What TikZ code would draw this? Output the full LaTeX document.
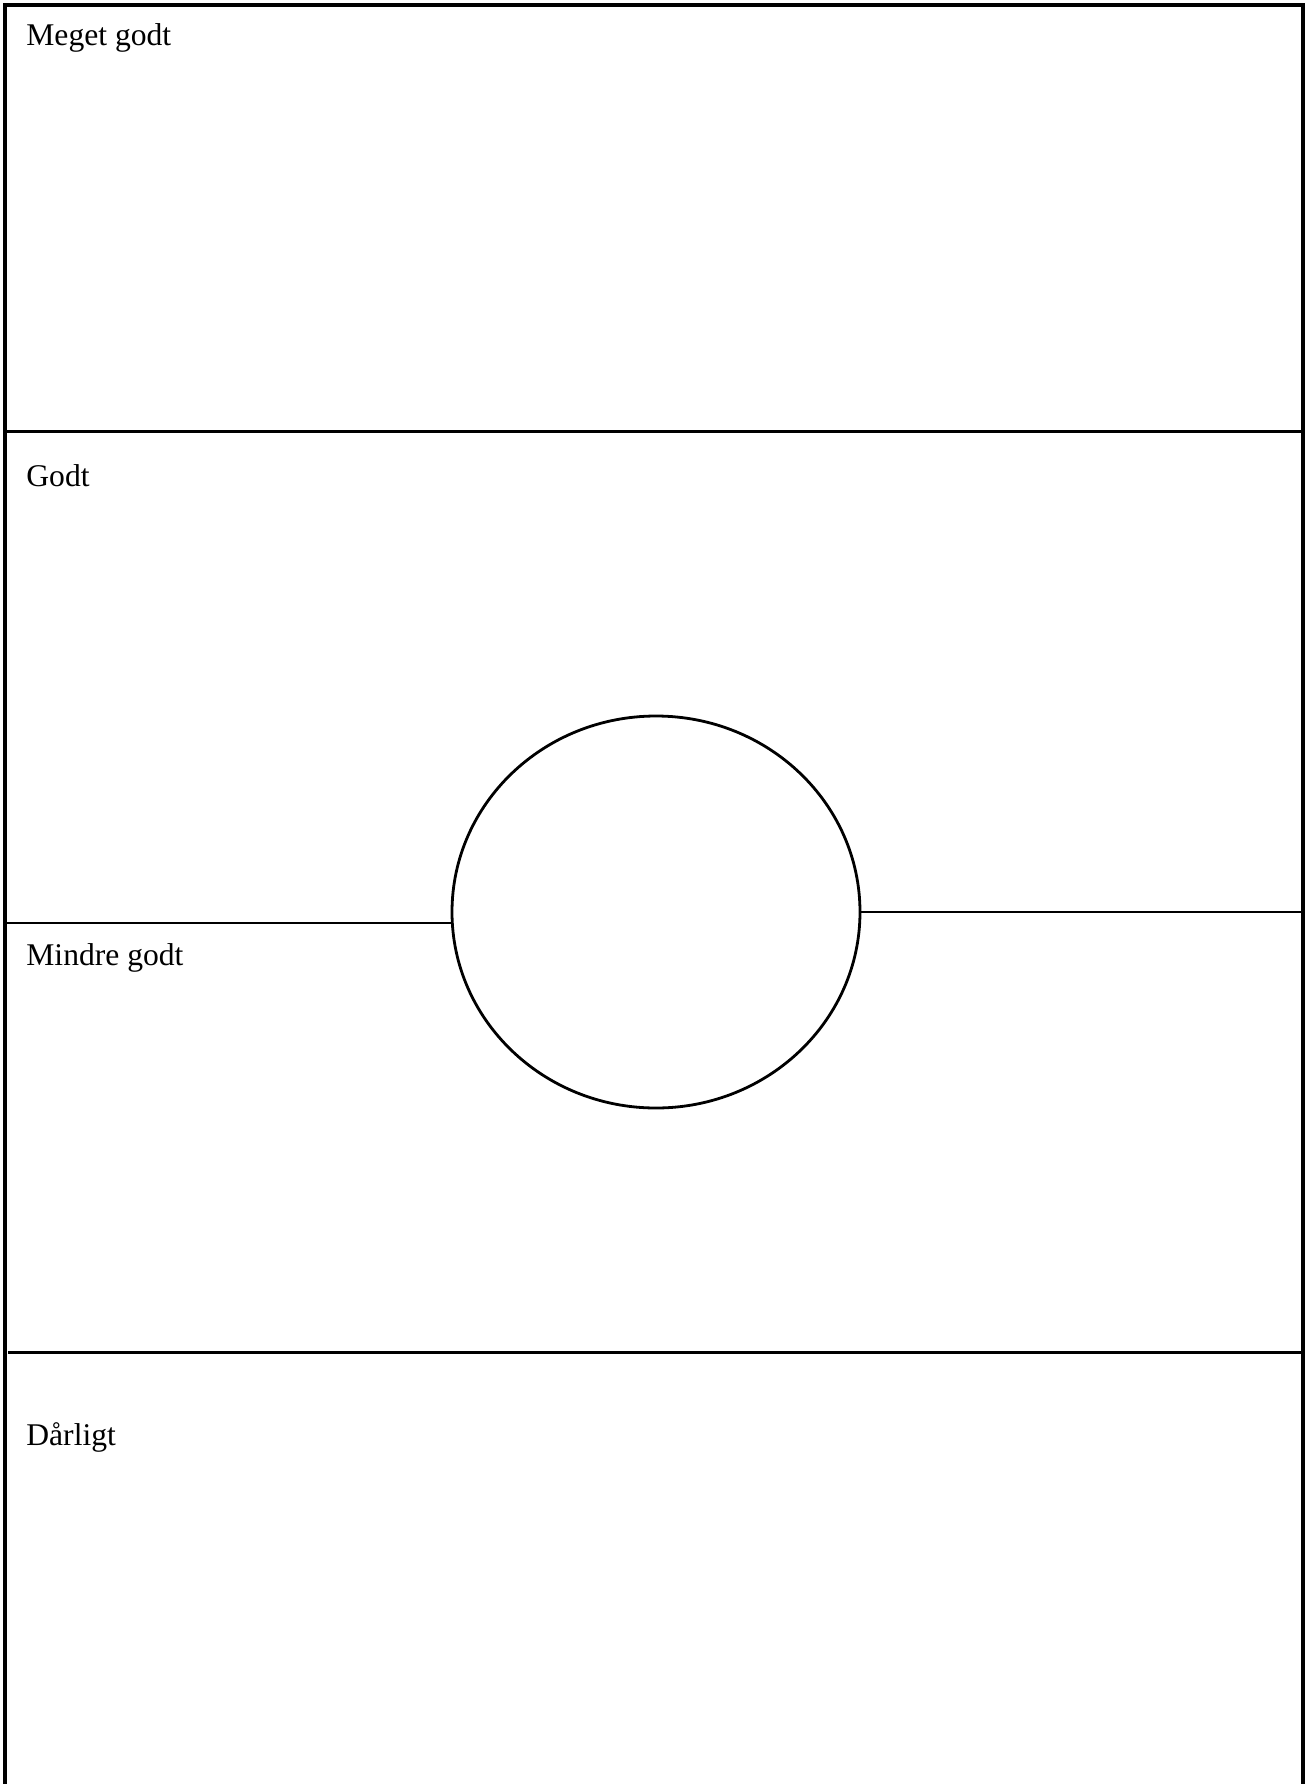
\documentclass[tikz,border=0pt]{standalone}
\usepackage{fontspec}
\setmainfont{Liberation Serif}
\usetikzlibrary{shapes.geometric}
\begin{document}
\begin{tikzpicture}[x=0.5pt,y=-0.5pt,
  frame/.style={line width=2.1pt},
  divider/.style={line width=1.4pt},
  label/.style={anchor=base west,inner sep=0pt,font=\fontsize{15.8pt}{19pt}\selectfont}]
\useasboundingbox (0,0) rectangle (1305,1784);
% outer frame (open at bottom)
\coordinate (bl) at (5,1784);
\coordinate (tl) at (5,5);
\coordinate (tr) at (1303,5);
\coordinate (br) at (1303,1784);
\draw[frame] (bl) -- (tl) -- (tr) -- (br);
% circle
\node[ellipse,draw,line width=1.4pt,minimum width=204pt,minimum height=196pt,inner sep=0pt] (c) at (656,912) {};
% dividers
\coordinate (l1a) at (5,431.5);
\coordinate (l1b) at (1303,431.5);
\draw[divider] (l1a) -- (l1b);
\coordinate (lm) at (5,923);
\draw[divider] (lm) -- (c.west |- lm);
\coordinate (rm) at (1303,912);
\draw[divider] (c.east) -- (rm);
\coordinate (l3a) at (8,1352.5);
\coordinate (l3b) at (1303,1352.5);
\draw[divider] (l3a) -- (l3b);
% labels
\node[label] (t1) at (26,45) {Meget godt};
\node[label] (t2) at (26,486) {Godt};
\node[label] (t3) at (26,965) {Mindre godt};
\node[label] (t4) at (26,1445) {Dårligt};
\end{tikzpicture}
\end{document}
